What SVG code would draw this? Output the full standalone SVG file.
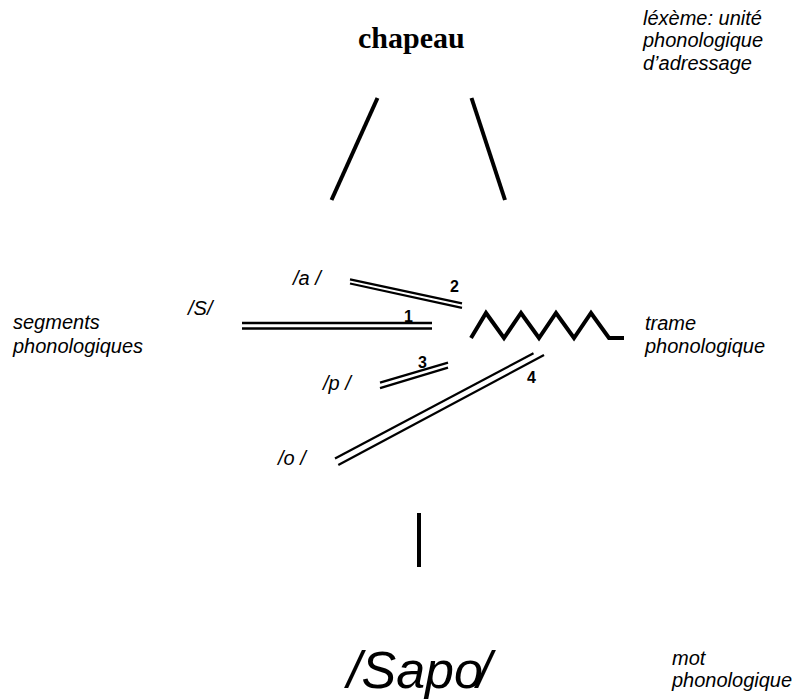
<svg xmlns="http://www.w3.org/2000/svg" width="800" height="700" viewBox="0 0 800 700">
<style>
.lbl{font-family:"Liberation Sans",Arial,sans-serif;font-style:italic;font-size:20px;fill:#000}
.num{font-family:"Liberation Sans",Arial,sans-serif;font-weight:bold;font-size:16px;fill:#000}
.thick{stroke:#000;stroke-width:4;fill:none}
.dbl{stroke:#000;stroke-width:2.3;fill:none}
</style>
<rect width="800" height="700" fill="#fff"/>
<g id="lexeme">
<text x="358" y="48" font-family="'Liberation Serif','Times New Roman',serif" font-weight="bold" font-size="30">chapeau</text>
</g>
<g id="lexeme-note" class="lbl">
<text x="643" y="25">léxème: unité</text>
<text x="643" y="47">phonologique</text>
<text x="643" y="70">d’adressage</text>
</g>
<g id="trame">
<polyline class="thick" points="471,338 486,313 504,338 521,313 539,338 556,313 574,338 591,313 609,338 624,338"/>
</g>
<g id="trame-note" class="lbl">
<text x="645" y="330">trame</text>
<text x="645" y="353">phonologique</text>
</g>
<g id="segments-note" class="lbl">
<text x="13" y="329">segments</text>
<text x="13" y="353">phonologiques</text>
</g>
<g id="seg-S"><text class="lbl" x="188" y="315">/S/</text></g>
<g id="seg-a"><text class="lbl" x="293" y="285">/a /</text></g>
<g id="seg-p"><text class="lbl" x="323" y="390">/p /</text></g>
<g id="seg-o"><text class="lbl" x="278" y="465">/o /</text></g>
<g id="mot">
<text x="347" y="688" font-family="'Liberation Sans',Arial,sans-serif" font-style="italic" font-size="52">/Sapo<tspan dx="-6">/</tspan></text>
</g>
<g id="mot-note" class="lbl">
<text x="672" y="665">mot</text>
<text x="672" y="687">phonologique</text>
</g>
<g id="connectors">
<line class="thick" x1="377.5" y1="98" x2="331.5" y2="200"/>
<line class="thick" x1="471.5" y1="98" x2="505" y2="200"/>
<line class="dbl" x1="242" y1="323" x2="432" y2="323"/>
<line class="dbl" x1="242" y1="328.5" x2="432" y2="328.5"/>
<line class="dbl" x1="350" y1="279.3" x2="462" y2="303.3"/>
<line class="dbl" x1="350" y1="283.5" x2="462" y2="307.8"/>
<line class="dbl" x1="380" y1="382.7" x2="448" y2="362.7"/>
<line class="dbl" x1="380" y1="388.2" x2="448" y2="367.7"/>
<line class="dbl" x1="335" y1="458.5" x2="533.5" y2="353.3"/>
<line class="dbl" x1="338.3" y1="465" x2="544" y2="355"/>
<line class="thick" x1="419" y1="513" x2="419" y2="567"/>
<text class="num" x="404" y="322">1</text>
<text class="num" x="450" y="292">2</text>
<text class="num" x="418" y="368">3</text>
<text class="num" x="527" y="383">4</text>
</g>
</svg>
